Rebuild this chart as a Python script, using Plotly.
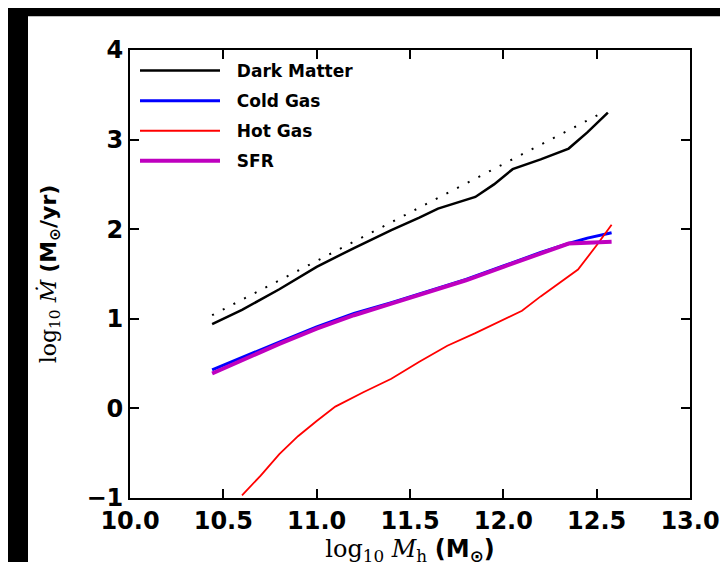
import plotly.graph_objects as go

# ---- data ----
dm_x = [10.44, 10.6, 10.8, 11.0, 11.2, 11.4, 11.55, 11.65, 11.85, 11.95, 12.05, 12.2, 12.35, 12.45, 12.56]
dm_y = [0.94, 1.10, 1.33, 1.58, 1.79, 1.99, 2.13, 2.23, 2.36, 2.50, 2.67, 2.78, 2.90, 3.08, 3.30]

fit_x = [10.44, 12.53]
fit_y = [1.04, 3.30]

gas_x = [10.44, 10.6, 10.8, 11.0, 11.2, 11.4, 11.6, 11.8, 12.0, 12.2, 12.35, 12.45, 12.58]
cold_y = [0.43, 0.57, 0.74, 0.91, 1.06, 1.18, 1.31, 1.44, 1.59, 1.74, 1.84, 1.90, 1.96]
sfr_y = [0.39, 0.54, 0.72, 0.89, 1.04, 1.17, 1.30, 1.43, 1.58, 1.73, 1.84, 1.85, 1.86]

hot_x = [10.60, 10.70, 10.80, 10.90, 11.00, 11.10, 11.25, 11.40, 11.55, 11.70, 11.85, 12.00,
         12.10, 12.20, 12.30, 12.40, 12.50, 12.58]
hot_y = [-0.97, -0.75, -0.51, -0.31, -0.14, 0.02, 0.18, 0.33, 0.52, 0.70, 0.84, 0.99,
         1.09, 1.25, 1.40, 1.55, 1.82, 2.05]

x_ticks = [10.0, 10.5, 11.0, 11.5, 12.0, 12.5, 13.0]
y_ticks = [-1, 0, 1, 2, 3, 4]

series_names = ["Dark Matter", "Cold Gas", "Hot Gas", "SFR"]

W, H = 728, 562
L, R, T, B = 122, 46, 42, 69
pw, ph = W - L - R, H - T - B
pad = "\u00a0\u00a0"

fig = go.Figure()
fig.add_trace(go.Scatter(x=fit_x, y=fit_y, mode="lines", showlegend=False,
                         line=dict(color="black", width=2, dash="2px,10px")))
fig.add_trace(go.Scatter(x=dm_x, y=dm_y, mode="lines", name=pad + series_names[0], legendgroup="a",
                         line=dict(color="black", width=2.5)))
fig.add_trace(go.Scatter(x=gas_x, y=cold_y, mode="lines", name=pad + series_names[1], legendgroup="b",
                         line=dict(color="#0000ff", width=3)))
fig.add_trace(go.Scatter(x=hot_x, y=hot_y, mode="lines", name=pad + series_names[2], legendgroup="c",
                         line=dict(color="#ff0000", width=1.8)))
fig.add_trace(go.Scatter(x=gas_x, y=sfr_y, mode="lines", name=pad + series_names[3], legendgroup="d",
                         line=dict(color="#bf00bf", width=4)))

tickfont = dict(family="DejaVu Sans", size=24, weight="bold", color="black")
axis_common = dict(showgrid=False, zeroline=False, showline=True, linecolor="black", linewidth=2,
                   mirror="allticks", ticks="inside", ticklen=9, tickwidth=1.5, tickcolor="black",
                   tickfont=tickfont)

fig.update_xaxes(range=[10, 13], tickvals=x_ticks, ticktext=[f"{v:.1f}" for v in x_ticks],
                 title=dict(text='<span style="font-family:DejaVu Serif">log<sub>10</sub> <i>M</i><sub>h</sub></span> <b>(M<sub>⊙</sub>)</b>',
                            font=dict(family="DejaVu Sans", size=24, color="black"), standoff=6),
                 **axis_common)
fig.update_yaxes(range=[-1, 4], tickvals=y_ticks, ticktext=[str(v) if v >= 0 else "−1" for v in y_ticks],
                 title=dict(text='<span style="font-family:DejaVu Serif">log<sub>10</sub> <i>Ṁ</i></span> <b>(M<sub>⊙</sub>/yr)</b>',
                            font=dict(family="DejaVu Sans", size=22, color="black"), standoff=24),
                 **axis_common)

# black frame strips at the figure's left and top edges
fig.add_shape(type="rect", xref="paper", yref="paper", layer="below",
              x0=(0 - L) / pw, x1=(20 - L) / pw, y0=-B / ph - 0.01, y1=(H - B + 1) / ph,
              fillcolor="black", line=dict(width=0))
fig.add_shape(type="rect", xref="paper", yref="paper", layer="below",
              x0=(0 - L) / pw, x1=(W - L) / pw + 0.01, y0=1 + (T - 8) / ph, y1=1 + (T + 1) / ph,
              fillcolor="black", line=dict(width=0))

fig.update_layout(
    width=W, height=H,
    margin=dict(l=L, r=R, t=T, b=B),
    paper_bgcolor="white", plot_bgcolor="white",
    showlegend=True,
    legend=dict(x=(127 - L) / pw, y=1 - (3 / ph), xanchor="left", yanchor="top",
                bgcolor="rgba(0,0,0,0)", borderwidth=0, itemwidth=80,
                traceorder="grouped", tracegroupgap=5,
                font=dict(family="DejaVu Sans", size=17, weight="bold", color="black")),
)

fig.write_html("out.html")
